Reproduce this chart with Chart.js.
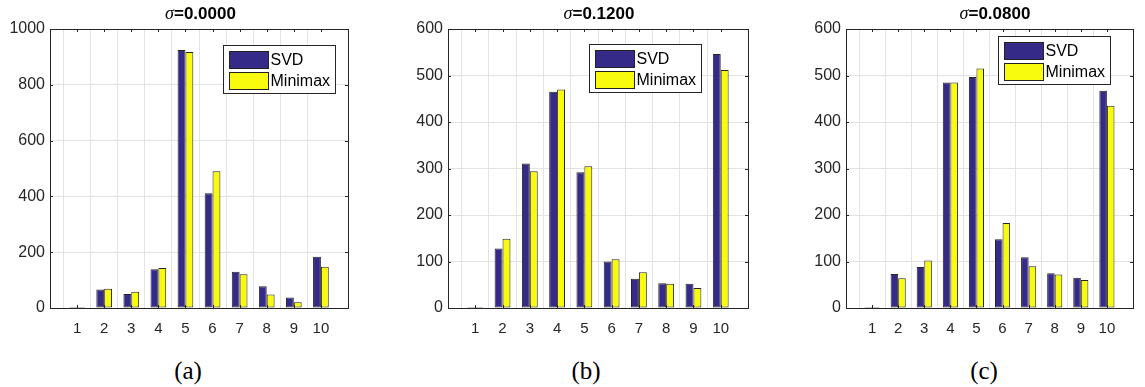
<!DOCTYPE html>
<html>
<head>
<meta charset="utf-8">
<script src="https://cdn.jsdelivr.net/npm/chart.js@4.4.1/dist/chart.umd.min.js"></script>
<style>
  body { margin: 0; background: #fff; }
  #page { position: relative; width: 1145px; height: 387px; overflow: hidden; }
  canvas { position: absolute; top: 0; }
  .title {
    position: absolute; top: 3px; width: 200px; margin-left: -100px;
    text-align: center; line-height: 22px; white-space: nowrap;
    font: bold 17px "Liberation Sans", Arial, sans-serif; color: #000;
  }
  .title i { font: italic 18px "Liberation Serif", serif; }
  .caption {
    position: absolute; top: 357px; width: 60px; margin-left: -30px;
    text-align: center; line-height: 30px;
    font: 25px "Liberation Serif", serif; color: #000;
  }
</style>
</head>
<body>
<div id="page"></div>
<script>
const categories = ["1", "2", "3", "4", "5", "6", "7", "8", "9", "10"];

const svdSigma0 = [3, 66, 50, 139, 925, 411, 130, 78, 38, 184];
const minimaxSigma0 = [1, 69, 58, 143, 918, 490, 121, 48, 21, 148];
const svdSigma12 = [2, 128, 311, 465, 292, 100, 63, 53, 52, 546];
const minimaxSigma12 = [0, 149, 294, 470, 305, 105, 77, 52, 43, 512];
const svdSigma08 = [2, 73, 88, 485, 497, 148, 109, 75, 65, 467];
const minimaxSigma08 = [0, 64, 102, 485, 515, 183, 90, 72, 60, 435];

const sigmaLabels = ["0.0000", "0.1200", "0.0800"];
const captions = ["(a)", "(b)", "(c)"];
const yMax = [1000, 600, 600];
const yStep = [200, 100, 100];
const seriesNames = ["SVD", "Minimax"];

const svdColor = "#352a87";
const minimaxColor = "#f9fb0e";
const gridColor = "#e3e3e3";
const axisColor = "#262626";

const panels = [
  { left: 0, width: 360, axisW: 50, padRight: 9, legendX: 223, legendY: 45, captionX: 188, svd: svdSigma0, minimax: minimaxSigma0 },
  { left: 390, width: 370, axisW: 58, padRight: 10, legendX: 199, legendY: 44, captionX: 586, svd: svdSigma12, minimax: minimaxSigma12 },
  { left: 780, width: 365, axisW: 66, padRight: 1, legendX: 218, legendY: 36, captionX: 984, svd: svdSigma08, minimax: minimaxSigma08 },
];

const canvasHeight = 345;
const plotTop = 29;
const plotBottom = 308;

// pad with empty slots so the axis runs from 0 to 11 like the original
const padded = (arr) => [null, ...arr, null];

const frameAndLegend = {
  id: "frameAndLegend",
  afterDraw(chart, args, opts) {
    const ctx = chart.ctx;
    const area = chart.chartArea;
    const xs = chart.scales.x;
    const ys = chart.scales.y;
    ctx.save();
    ctx.strokeStyle = axisColor;
    ctx.lineWidth = 1;
    ctx.strokeRect(Math.round(area.left) + 0.5, Math.round(area.top) + 0.5,
      Math.round(area.right - area.left), Math.round(area.bottom - area.top));

    ctx.beginPath();
    for (let i = 1; i <= categories.length; i++) {
      const x = Math.round(xs.getPixelForTick(i)) + 0.5;
      ctx.moveTo(x, area.bottom);
      ctx.lineTo(x, area.bottom - 3);
      ctx.moveTo(x, area.top);
      ctx.lineTo(x, area.top + 3);
    }
    ys.ticks.forEach((t) => {
      const y = Math.round(ys.getPixelForValue(t.value)) + 0.5;
      ctx.moveTo(area.left, y);
      ctx.lineTo(area.left + 3, y);
      ctx.moveTo(area.right, y);
      ctx.lineTo(area.right - 3, y);
    });
    ctx.stroke();

    const bx = opts.x + 0.5, by = opts.y + 0.5, bw = 112, bh = 48;
    ctx.fillStyle = "#fff";
    ctx.fillRect(bx, by, bw, bh);
    ctx.strokeStyle = axisColor;
    ctx.strokeRect(bx, by, bw, bh);
    ctx.font = '16px "Liberation Sans", Arial, sans-serif';
    ctx.textBaseline = "middle";
    chart.data.datasets.forEach((ds, i) => {
      const sy = by + 6 + i * 21;
      ctx.fillStyle = ds.backgroundColor;
      ctx.fillRect(bx + 6, sy, 39, 17);
      ctx.strokeStyle = "#222";
      ctx.strokeRect(bx + 6, sy, 39, 17);
      ctx.fillStyle = "#000";
      ctx.fillText(ds.label, bx + 47, sy + 9);
    });
    ctx.restore();
  },
};

function makePanel(p, idx) {
  const page = document.getElementById("page");
  const canvas = document.createElement("canvas");
  canvas.width = p.width;
  canvas.height = canvasHeight;
  canvas.style.left = p.left + "px";
  page.appendChild(canvas);

  const plotCenter = p.left + p.axisW + (p.width - p.axisW - p.padRight) / 2;
  const title = document.createElement("div");
  title.className = "title";
  title.style.left = plotCenter + "px";
  title.innerHTML = "<i>σ</i>=" + sigmaLabels[idx];
  page.appendChild(title);

  const caption = document.createElement("div");
  caption.className = "caption";
  caption.style.left = p.captionX + "px";
  caption.textContent = captions[idx];
  page.appendChild(caption);

  new Chart(canvas, {
    type: "bar",
    data: {
      labels: ["", ...categories, ""],
      datasets: [
        { label: seriesNames[0], data: padded(p.svd), backgroundColor: svdColor },
        { label: seriesNames[1], data: padded(p.minimax), backgroundColor: minimaxColor },
      ],
    },
    options: {
      responsive: false,
      animation: false,
      devicePixelRatio: 1,
      layout: { padding: { top: plotTop, right: p.padRight, left: 0, bottom: 0 } },
      datasets: {
        bar: {
          categoryPercentage: 0.58,
          barPercentage: 1,
          borderWidth: 1,
          borderColor: "#262626",
          borderSkipped: false,
          minBarLength: 1,
        },
      },
      plugins: {
        legend: { display: false },
        tooltip: { enabled: false },
        frameAndLegend: { x: p.legendX, y: p.legendY },
      },
      scales: {
        x: {
          offset: false,
          afterFit: (s) => { s.height = canvasHeight - plotBottom; },
          grid: {
            drawTicks: false,
            color: (c) => (c.index === 0 || c.index === categories.length + 1 ? "rgba(0,0,0,0)" : gridColor),
          },
          border: { display: false },
          ticks: {
            autoSkip: false,
            maxRotation: 0,
            padding: 12,
            color: axisColor,
            font: { family: '"Liberation Sans", Arial, sans-serif', size: 15 },
          },
        },
        y: {
          min: 0,
          max: yMax[idx],
          afterFit: (s) => { s.width = p.axisW; },
          grid: { drawTicks: false, color: gridColor },
          border: { display: false },
          ticks: {
            stepSize: yStep[idx],
            padding: 5,
            color: axisColor,
            callback: (v) => String(v),
            font: { family: '"Liberation Sans", Arial, sans-serif', size: 16 },
          },
        },
      },
    },
    plugins: [frameAndLegend],
  });
}

panels.forEach(makePanel);
</script>
</body>
</html>
